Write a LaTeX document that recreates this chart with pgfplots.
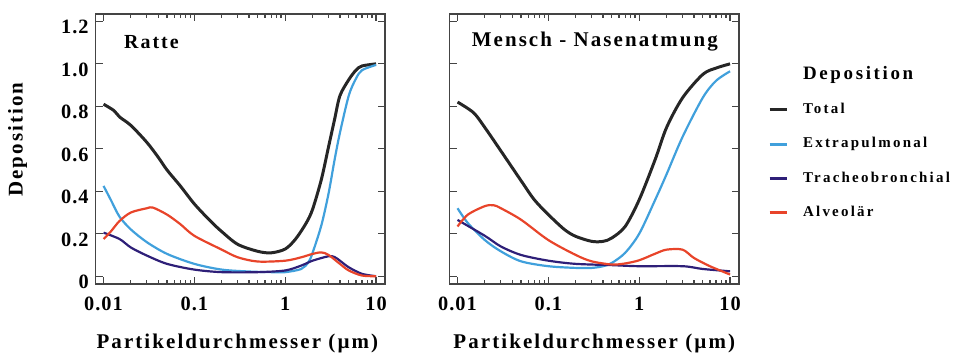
\documentclass[border=0pt]{standalone}
\usepackage{pgfplots}
\pgfplotsset{compat=1.18}
\usepackage{fontspec}
\setmainfont{Liberation Serif}[LetterSpace=10]
\definecolor{ctot}{HTML}{262626}
\definecolor{cext}{HTML}{40A0DC}
\definecolor{ctra}{HTML}{2E1F78}
\definecolor{calv}{HTML}{E8442A}
\definecolor{cframe}{HTML}{444444}
\begin{document}
\begin{tikzpicture}
\path (0,0) rectangle (477pt,178pt);
\begin{axis}[xmode=log, scale only axis, width=145pt, height=135.5pt,
    at={(48pt,35.5pt)}, anchor=south west,
    xmin=0.0082, xmax=12.5, ymin=-0.0376, ymax=1.235,
    xtick={0.01,0.1,1,10}, xticklabels={0.01,0.1,1,10},
    ytick={0,0.2,0.4,0.6,0.8,1.0,1.2},
    yticklabels={0,0.2,0.4,0.6,0.8,1.0,1.2},
    axis line style={line width=0.75pt, color=cframe},
    tick style={line width=0.6pt, color=cframe},
    major tick length=3.5pt, minor tick length=2pt,
    tick align=inside,
    ticklabel style={font=\bfseries\fontsize{10.2}{12}\selectfont\addfontfeature{LetterSpace=5}},
    xticklabel style={yshift=-3pt},
    yticklabel style={yshift=-3pt},
    xlabel={Partikeldurchmesser (µm)},
    ylabel={Deposition},
    xlabel style={font=\bfseries\fontsize{10.5}{12}\selectfont, at={(axis description cs:0.49,-0.221)}, anchor=center},
    ylabel style={font=\bfseries\fontsize{10.5}{12}\selectfont, at={(axis description cs:-0.27,0.535)}, anchor=center},
    /pgf/number format/assume math mode=true]
\addplot[color=ctot, line width=1.5pt, smooth, tension=0.5] coordinates {(0.01,0.81)(0.013,0.78)(0.015,0.75)(0.02,0.71)(0.03,0.63)(0.04,0.56)(0.05,0.50)(0.07,0.425)(0.1,0.34)(0.15,0.26)(0.2,0.21)(0.3,0.15)(0.5,0.117)(0.7,0.11)(1,0.128)(1.3,0.175)(1.7,0.25)(2,0.315)(2.5,0.456)(3,0.61)(3.5,0.74)(4,0.85)(5,0.925)(6,0.97)(7,0.99)(10,1.0)};
\addplot[color=cext, line width=1.1pt, smooth, tension=0.5] coordinates {(0.01,0.425)(0.012,0.36)(0.015,0.28)(0.02,0.22)(0.03,0.16)(0.05,0.105)(0.1,0.058)(0.2,0.031)(0.4,0.022)(0.7,0.019)(1,0.019)(1.5,0.034)(1.8,0.066)(2,0.11)(2.5,0.24)(3,0.39)(3.5,0.55)(4,0.675)(5,0.85)(6,0.93)(7,0.97)(10,0.995)};
\addplot[color=ctra, line width=1.1pt, smooth, tension=0.5] coordinates {(0.01,0.205)(0.015,0.175)(0.02,0.135)(0.03,0.097)(0.05,0.058)(0.1,0.031)(0.2,0.019)(0.5,0.019)(1,0.027)(1.5,0.05)(2,0.073)(3,0.094)(3.5,0.09)(4,0.073)(5,0.042)(7,0.011)(10,0.0)};
\addplot[color=calv, line width=1.1pt, smooth, tension=0.5] coordinates {(0.01,0.175)(0.012,0.21)(0.015,0.26)(0.02,0.30)(0.03,0.32)(0.035,0.323)(0.05,0.29)(0.07,0.245)(0.1,0.19)(0.2,0.125)(0.3,0.089)(0.5,0.069)(1,0.073)(1.5,0.089)(2,0.105)(2.5,0.112)(3,0.10)(4,0.058)(5,0.027)(7,0.003)(10,0.0)};
\node[anchor=west, inner sep=0pt, font=\bfseries\fontsize{10}{12}\selectfont] at (axis description cs:0.097,0.897) {Ratte};
\end{axis}
\begin{axis}[xmode=log, scale only axis, width=145pt, height=135.5pt,
    at={(225.5pt,35.5pt)}, anchor=south west,
    xmin=0.0082, xmax=12.5, ymin=-0.0376, ymax=1.235,
    xtick={0.01,0.1,1,10}, xticklabels={0.01,0.1,1,10},
    ytick={0,0.2,0.4,0.6,0.8,1.0,1.2},
    yticklabels={},
    axis line style={line width=0.75pt, color=cframe},
    tick style={line width=0.6pt, color=cframe},
    major tick length=3.5pt, minor tick length=2pt,
    tick align=inside,
    ticklabel style={font=\bfseries\fontsize{10.2}{12}\selectfont\addfontfeature{LetterSpace=5}},
    xticklabel style={yshift=-3pt},
    xlabel={Partikeldurchmesser (µm)},
    xlabel style={font=\bfseries\fontsize{10.5}{12}\selectfont, at={(axis description cs:0.5,-0.221)}, anchor=center},
    legend style={at={(axis description cs:1.1,0.823)}, anchor=north west, draw=none, fill=none,
      font=\bfseries\fontsize{7.5}{9}\selectfont, row sep=6.5pt, column sep=5.5pt, inner sep=0pt},
    legend cell align=left,
    legend image code/.code={\draw[#1, line width=1.5pt] (0pt,0pt) -- (8.5pt,0pt);},
    /pgf/number format/assume math mode=true]
\addlegendimage{empty legend}
\addlegendentry{\fontsize{9.5}{11}\selectfont\addfontfeature{LetterSpace=14}Deposition}
\addplot[color=ctot, line width=1.5pt, smooth, tension=0.5] coordinates {(0.01,0.82)(0.015,0.77)(0.02,0.70)(0.03,0.59)(0.05,0.45)(0.07,0.36)(0.1,0.29)(0.15,0.22)(0.2,0.1875)(0.3,0.164)(0.4,0.164)(0.5,0.18)(0.7,0.234)(1,0.36)(1.5,0.55)(2,0.70)(3,0.84)(5,0.95)(7,0.98)(10,1.0)};
\addlegendentry{\addfontfeature{LetterSpace=15}Total}
\addplot[color=cext, line width=1.1pt, smooth, tension=0.5] coordinates {(0.01,0.32)(0.013,0.25)(0.02,0.17)(0.03,0.117)(0.05,0.07)(0.1,0.047)(0.2,0.039)(0.3,0.039)(0.4,0.047)(0.5,0.0625)(0.7,0.11)(1,0.20)(1.5,0.36)(2,0.48)(3,0.656)(5,0.84)(7,0.92)(10,0.965)};
\addlegendentry{\addfontfeature{LetterSpace=15}Extrapulmonal}
\addplot[color=ctra, line width=1.1pt, smooth, tension=0.5] coordinates {(0.01,0.265)(0.02,0.19)(0.03,0.14)(0.05,0.10)(0.1,0.073)(0.2,0.058)(0.5,0.052)(1,0.047)(3,0.047)(5,0.034)(10,0.023)};
\addlegendentry{\addfontfeature{LetterSpace=15}Tracheobronchial}
\addplot[color=calv, line width=1.1pt, smooth, tension=0.5] coordinates {(0.01,0.234)(0.013,0.29)(0.02,0.33)(0.025,0.334)(0.03,0.32)(0.05,0.266)(0.1,0.17)(0.2,0.10)(0.3,0.07)(0.5,0.055)(0.7,0.06)(1,0.075)(1.5,0.106)(2,0.125)(3,0.125)(4,0.086)(6,0.047)(10,0.008)};
\addlegendentry{\addfontfeature{LetterSpace=15}Alveolär}
\node[anchor=west, inner sep=0pt, font=\bfseries\fontsize{10.5}{12}\selectfont] at (axis description cs:0.075,0.897) {Mensch - Nasenatmung};
\end{axis}
\end{tikzpicture}
\end{document}
